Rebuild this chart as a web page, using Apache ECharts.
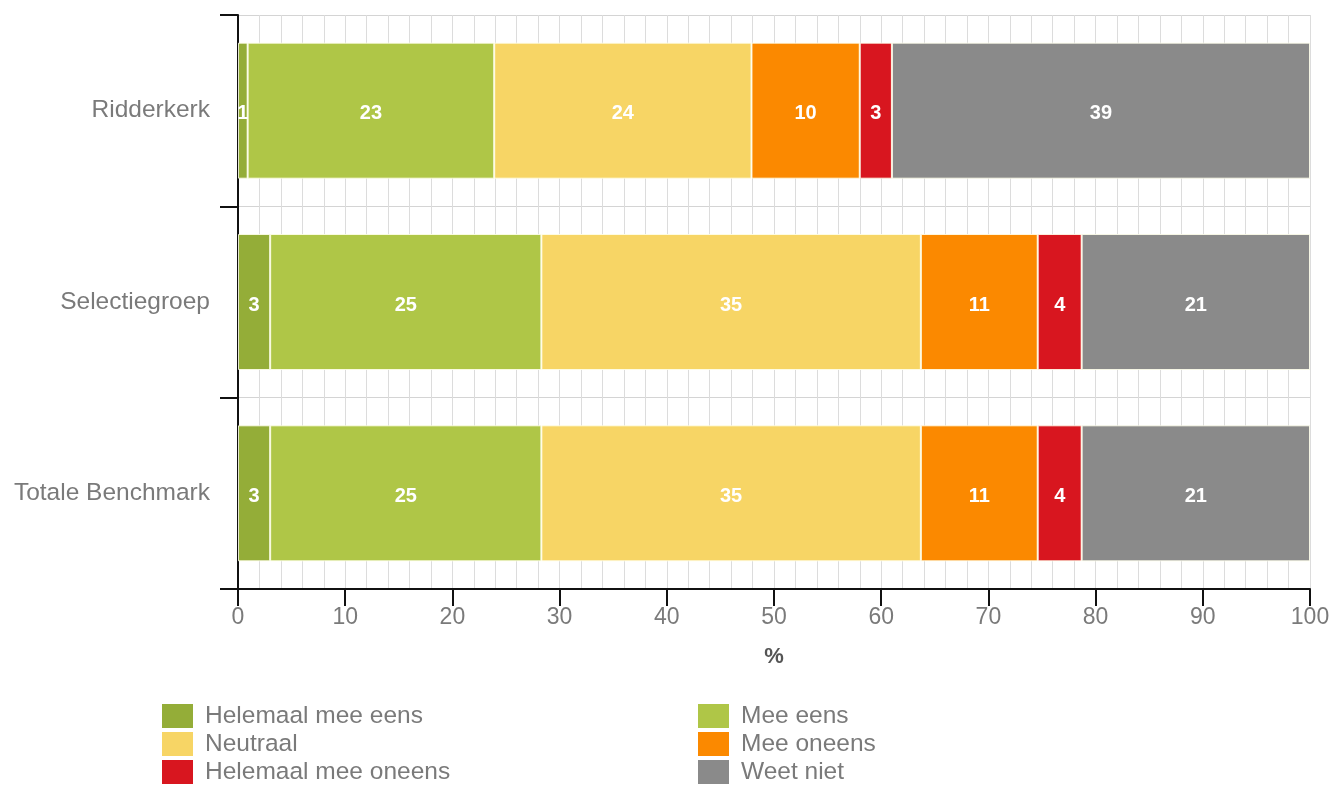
<!DOCTYPE html>
<html>
<head>
<meta charset="utf-8">
<script src="https://cdn.jsdelivr.net/npm/echarts@6/dist/echarts.min.js"></script>
<style>html,body{margin:0;padding:0;background:#fff}#c{width:1334px;height:785px}</style>
</head>
<body>
<div id="c"></div>
<script>
const categories = ['Ridderkerk', 'Selectiegroep', 'Totale Benchmark'];
const seriesNames = ['Helemaal mee eens', 'Mee eens', 'Neutraal', 'Mee oneens', 'Helemaal mee oneens', 'Weet niet'];
const helemaalMeeEens = [0.9, 3.0, 3.0];
const meeEens = [23.0, 25.3, 25.3];
const neutraal = [24.0, 35.4, 35.4];
const meeOneens = [10.1, 10.9, 10.9];
const helemaalMeeOneens = [3.0, 4.1, 4.1];
const weetNiet = [39.0, 21.3, 21.3];
const colors = ['#94ad38', '#afc647', '#f7d565', '#fb8900', '#d8161f', '#8a8a8a'];
const xTicks = [0, 10, 20, 30, 40, 50, 60, 70, 80, 90, 100];

const values = [helemaalMeeEens, meeEens, neutraal, meeOneens, helemaalMeeOneens, weetNiet];
const font = '"Liberation Sans", Arial, sans-serif';

const chart = echarts.init(document.getElementById('c'), null, {renderer: 'canvas'});
const series = seriesNames.map((name, i) => ({
  name: name,
  type: 'bar',
  stack: 'total',
  barWidth: 136,
  data: values[i],
  itemStyle: {color: colors[i], borderColor: 'rgba(255,255,235,0.85)', borderWidth: 1},
  label: {
    show: true,
    position: 'inside',
    color: '#fff',
    fontWeight: 'bold',
    fontSize: 20,
    fontFamily: font,
    offset: [0, 3],
    formatter: p => Math.round(p.value)
  }
}));

const legendBase = {
  orient: 'vertical', top: 702, height: 120, padding: 0,
  itemWidth: 31, itemHeight: 24, itemGap: 0,
  icon: 'rect',
  itemStyle: {borderWidth: 0},
  textStyle: {color: '#7a7a7a', fontSize: 24.5, lineHeight: 20, fontFamily: font, padding: [8, 0, 0, 7]}
};

chart.setOption({
  animation: false,
  grid: {left: 238, right: 24, top: 15, bottom: 196, containLabel: false},
  xAxis: {
    type: 'value',
    min: xTicks[0],
    max: xTicks[xTicks.length - 1],
    interval: 10,
    name: '%',
    nameLocation: 'middle',
    nameGap: 57,
    nameTextStyle: {color: '#555', fontWeight: 'bold', fontSize: 22, fontFamily: font},
    axisLine: {show: true, lineStyle: {color: '#111', width: 2}},
    axisTick: {show: true, length: 17, lineStyle: {color: '#111', width: 2}},
    axisLabel: {color: '#7a7a7a', fontSize: 23, fontFamily: font, margin: 17},
    splitLine: {show: true, lineStyle: {color: '#dcdcdc', width: 1}},
    minorTick: {show: false, splitNumber: 5},
    minorSplitLine: {show: true, lineStyle: {color: '#dcdcdc', width: 1}}
  },
  yAxis: {
    type: 'category',
    data: categories,
    inverse: true,
    axisLine: {show: true, lineStyle: {color: '#111', width: 2}},
    axisTick: {show: true, length: 18, lineStyle: {color: '#111', width: 2}},
    axisLabel: {color: '#7a7a7a', fontSize: 24.5, fontFamily: font, margin: 28},
    splitLine: {show: true, lineStyle: {color: '#d4d4d4', width: 1}}
  },
  legend: [
    Object.assign({}, legendBase, {left: 162, data: [seriesNames[0], seriesNames[2], seriesNames[4]]}),
    Object.assign({}, legendBase, {left: 698, data: [seriesNames[1], seriesNames[3], seriesNames[5]]})
  ],
  series: series
});
</script>
</body>
</html>
